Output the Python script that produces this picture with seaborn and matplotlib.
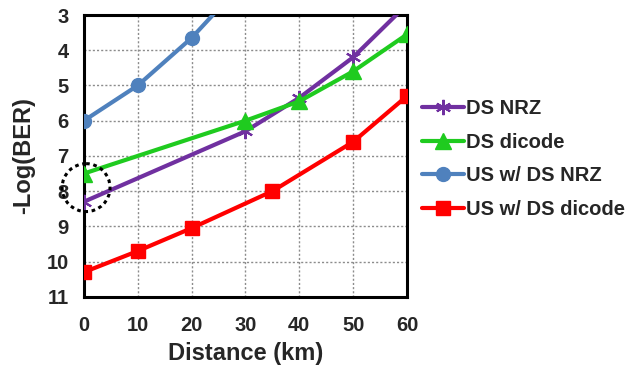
import matplotlib
matplotlib.use("Agg")
import matplotlib.pyplot as plt
import seaborn as sns
import pandas as pd
from matplotlib.patches import Ellipse

# data
ds_nrz_x = [0, 30, 40, 50, 60]
ds_nrz_y = [8.3, 6.3, 5.35, 4.2, 2.7]

ds_dicode_x = [0, 30, 40, 50, 60]
ds_dicode_y = [7.5, 6.0, 5.45, 4.6, 3.55]

us_nrz_x = [0, 10, 20, 30]
us_nrz_y = [6.0, 5.0, 3.65, 2.0]

us_dicode_x = [0, 10, 20, 35, 50, 60]
us_dicode_y = [10.3, 9.7, 9.05, 8.0, 6.6, 5.3]

labels = ["DS NRZ", "DS dicode", "US w/ DS NRZ", "US w/ DS dicode"]
x_ticks = [0, 10, 20, 30, 40, 50, 60]
y_ticks = [3, 4, 5, 6, 7, 8, 9, 10, 11]

sns.set_style("white")
plt.rcParams["font.family"] = ["Liberation Sans", "DejaVu Sans"]
plt.rcParams["font.weight"] = "bold"

fig = plt.figure(figsize=(6.31, 3.66), dpi=100)
ax = fig.add_axes([0.133, 0.189, 0.512, 0.770])

series = [
    (ds_nrz_x, ds_nrz_y, "#7030A0", (6, 2, 0), 11, 1.5),
    (ds_dicode_x, ds_dicode_y, "#1FCB1F", "^", 11, 1),
    (us_nrz_x, us_nrz_y, "#4F81BD", "o", 10, 1),
    (us_dicode_x, us_dicode_y, "#FF0000", "s", 9.5, 1),
]

for (xs, ys, color, mk, ms, mew), name in zip(series, labels):
    df = pd.DataFrame({"x": xs, "y": ys})
    sns.lineplot(data=df, x="x", y="y", ax=ax, color=color, linewidth=3,
                 marker=mk, markersize=ms, markeredgewidth=mew,
                 markeredgecolor=color, markerfacecolor=color,
                 label=name, zorder=3)

ax.set_xlim(0, 60)
ax.set_ylim(11, 3)
ax.set_xticks(x_ticks)
ax.set_yticks(y_ticks)
ax.tick_params(axis="both", labelsize=14.5, length=0)
ax.tick_params(axis="x", pad=14)
ax.tick_params(axis="y", pad=11)
for t in ax.get_xticklabels() + ax.get_yticklabels():
    t.set_fontweight("bold")

ax.grid(True, color="#8c8c8c", linestyle=(0, (1.5, 1.5)), linewidth=1)
for s in ax.spines.values():
    s.set_color("black")
    s.set_linewidth(2.2)

ax.set_xlabel("Distance (km)", fontsize=17, fontweight="bold", labelpad=5)
ax.set_ylabel("-Log(BER)", fontsize=17, fontweight="bold", labelpad=8)

# dotted circle marking the back-to-back points
circ = Ellipse((0.4, 7.9), width=8.9, height=1.36, fill=False,
               edgecolor="black", linestyle=(0, (1.2, 1.2)), linewidth=2.2,
               clip_on=False, zorder=4)
ax.add_patch(circ)

leg = ax.legend(loc="upper left", bbox_to_anchor=(1.02, 0.73), frameon=False,
                fontsize=14.5, handlelength=2.1, handletextpad=0.1,
                labelspacing=0.72, borderaxespad=0)
for t in leg.get_texts():
    t.set_fontweight("bold")

fig.savefig("out.png", dpi=100)
